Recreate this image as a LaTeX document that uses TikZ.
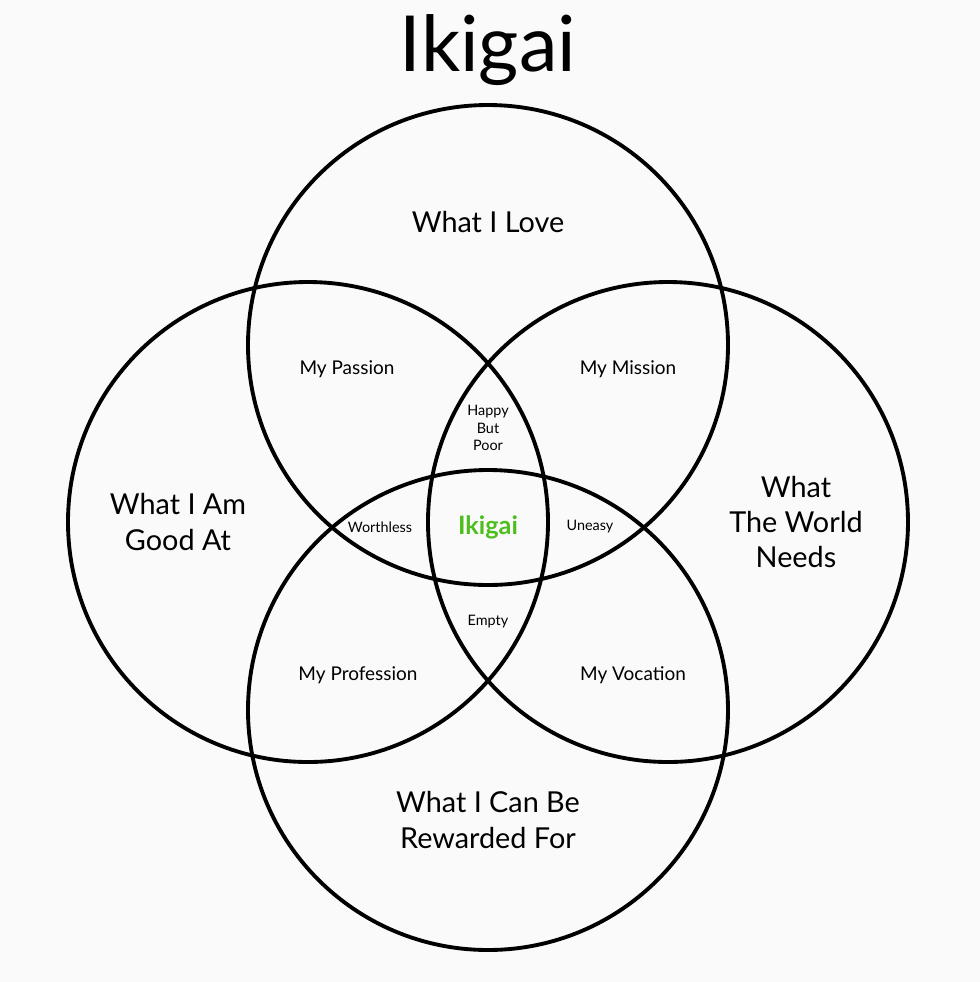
\documentclass[tikz,border=0pt]{standalone}
\usepackage{xcolor}
\usepackage{fontspec}
\setmainfont{Lato}
\definecolor{bgpaper}{HTML}{FAFAFA}
\definecolor{ikigreen}{HTML}{4DBE1E}
\tikzset{
    ring/.style = {draw = black, line width = 1.1pt},
    big/.style = {align = center, font = \fontsize{8.2}{10}\selectfont},
    mid/.style = {align = center, font = \fontsize{5.4}{6.5}\selectfont},
    tiny/.style = {align = center, font = \fontsize{4.1}{4.9}\selectfont}
}
\begin{document}
\begin{tikzpicture}[x = 0.1mm, y = -0.1mm]
        \fill [bgpaper] (0,0) rectangle (980,982);
        \useasboundingbox (0,0) rectangle (980,982);
        % the four circles
        \draw [ring] (488,345) circle [radius = 24mm];
        \draw [ring] (308,522) circle [radius = 24mm];
        \draw [ring] (668,522) circle [radius = 24mm];
        \draw [ring] (488,710) circle [radius = 24mm];
        \node [font = \fontsize{22}{26}\selectfont] (title) at (488,50) {Ikigai};
        \node [big] (love) at (488,222) {What I Love};
        \node [big] (good) at (178,522) {What I Am\\Good At};
        \node [big] (needs) at (796,522) {What\\The World\\Needs};
        \node [big] (paid) at (488,820) {What I Can Be\\Rewarded For};
        \node [mid] (passion) at (347,369) {My Passion};
        \node [mid] (mission) at (628,369) {My Mission};
        \node [mid] (profession) at (358,675) {My Profession};
        \node [mid] (vocation) at (633,675) {My Vocation};
        \node [tiny] (happy) at (488,428) {Happy\\But\\Poor};
        \node [tiny] (worthless) at (380,527) {Worthless};
        \node [tiny] (uneasy) at (590,527) {Uneasy};
        \node [tiny] (empty) at (488,622) {Empty};
        \node [font = \bfseries\fontsize{7.2}{8}\selectfont, text = ikigreen] (ikigai) at (488,527) {Ikigai};
    \end{tikzpicture}
\end{document}
